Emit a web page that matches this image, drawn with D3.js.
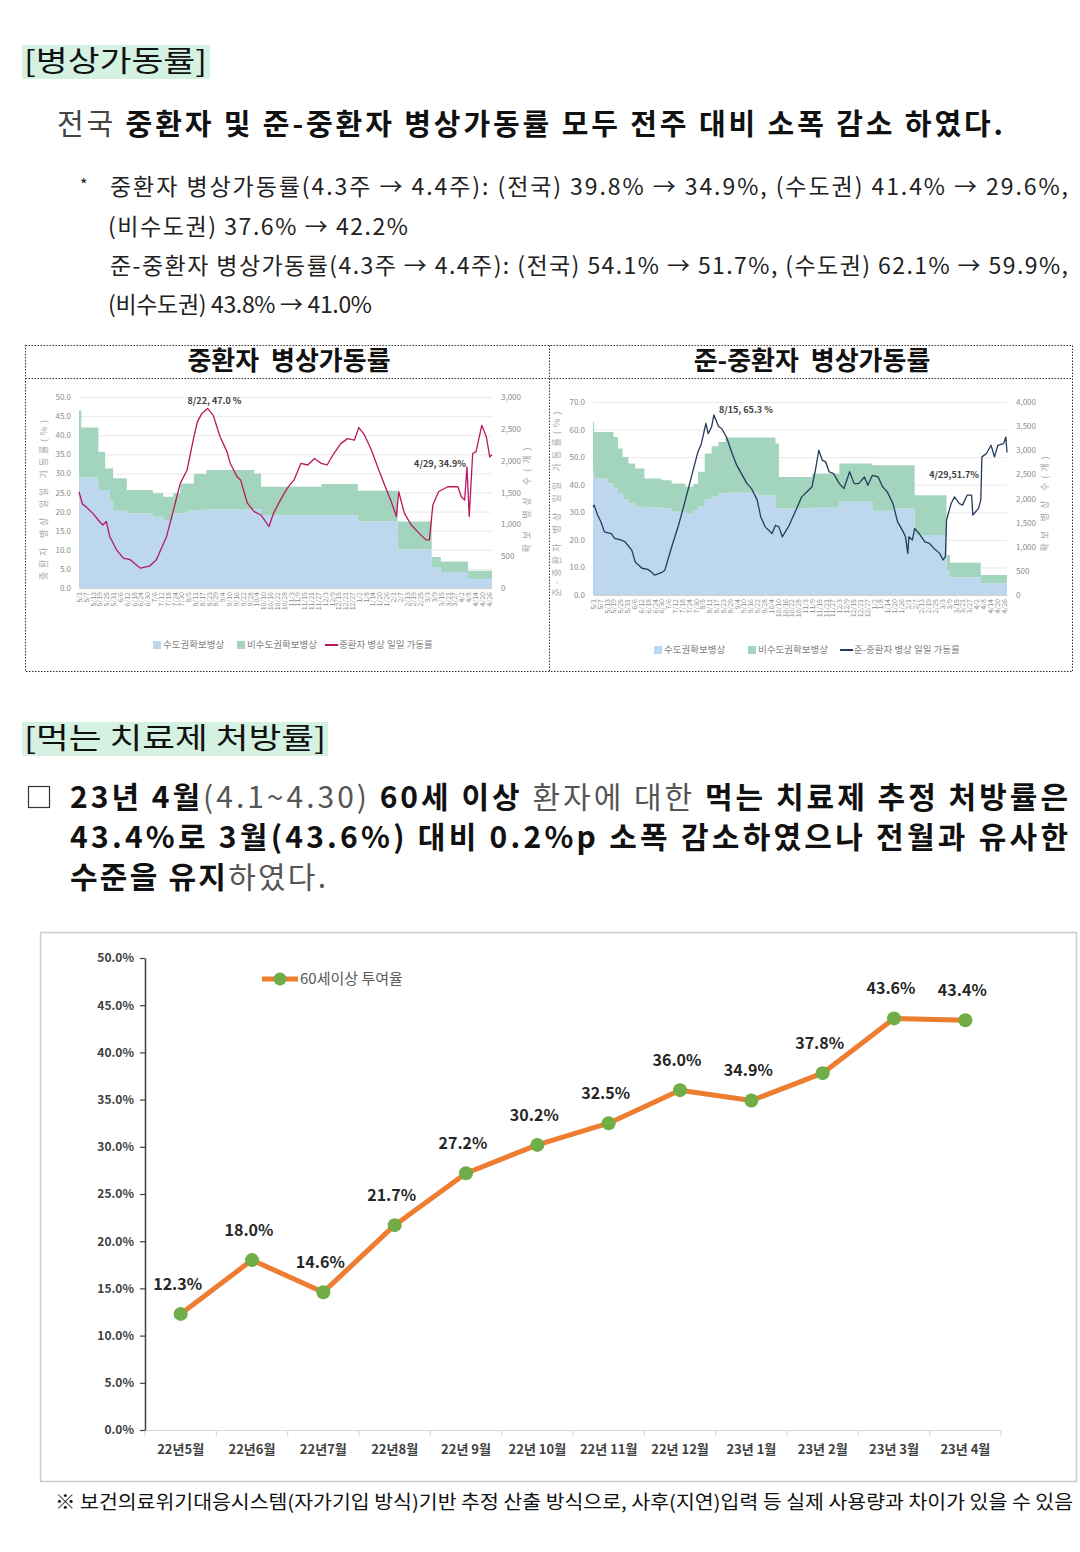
<!DOCTYPE html>
<html>
<head>
<meta charset="utf-8">
<script src="https://cdn.jsdelivr.net/npm/d3@7"></script>
<style>
  body { margin: 0; background: #fff; }
  svg { display: block; }
  text { font-family: "Noto Sans CJK KR", "Noto Sans", sans-serif; white-space: pre; }
</style>
</head>
<body>
<div id="page"></div>
<script>
// ---- main chart: 60세이상 먹는 치료제 투여율 ----
const months = ["22년5월", "22년6월", "22년7월", "22년8월", "22년 9월", "22년 10월",
                "22년 11월", "22년 12월", "23년 1월", "23년 2월", "23년 3월", "23년 4월"];
const rate60 = [12.3, 18.0, 14.6, 21.7, 27.2, 30.2, 32.5, 36.0, 34.9, 37.8, 43.6, 43.4];
const rateTicks = [0, 5, 10, 15, 20, 25, 30, 35, 40, 45, 50];

// ---- small charts (day = days since 2022-05-01) ----
// [day, 수도권 확보병상, 비수도권 확보병상]
const icuBeds = [[0,1740,1050],[2,1740,780],[17,1540,599],[23,1540,338],[27,1380,498],[30,1216,506],
  [42,1170,369],[65,1120,367],[74,1070,365],[83,1174,313],[89,1174,469],[95,1216,427],[101,1216,574],
  [112,1236,616],[154,1236,564],[160,1148,443],[213,1148,485],[245,1043,486],[280,610,433],
  [310,329,156],[318,250,167],[342,140,131],[363,140,131]];
// [day, 중환자 병상 일일 가동률]
const icuRate = [[0,25.2],[3,22],[6,21.3],[12,19.6],[18,17.4],[21,16.5],[24,17.4],[27,13.5],[33,10],
  [39,7.8],[45,7.4],[54,5.2],[62,5.7],[68,7.4],[77,13.5],[83,20.4],[89,27.4],[95,30.9],[101,39.6],
  [104,43.5],[108,45.7],[113,47.0],[118,45.2],[124,39.6],[130,35.7],[133,32.6],[139,29.1],[142,28.3],
  [148,22.2],[154,20],[160,19.1],[167,16.1],[171,19.6],[177,23],[183,26.1],[189,28.3],[195,32.6],
  [201,32.2],[207,33.9],[213,32.6],[218,32.2],[224,35.2],[230,37.8],[236,39.1],[242,38.7],[246,42],
  [251,40],[257,36.1],[263,31.3],[268,27.4],[274,23],[279,18.7],[281,25.2],[286,19.6],[292,16.5],
  [299,14.3],[305,12.6],[308,12.6],[311,21.7],[316,25.2],[324,26.5],[333,26.5],[336,23.9],[339,23],
  [341,31.7],[343,18.7],[346,35.2],[349,35.7],[354,42.6],[358,39.6],[361,34.3],[363,34.9]];
const icuNotes = ["8/22, 47.0 %", "4/29, 34.9%"];

const semiBeds = [[0,2552,1034],[1,2414,965],[13,2310,1069],[18,2207,1069],[22,2103,931],[26,1979,883],
  [31,1897,827],[37,1828,793],[45,1814,600],[60,1793,586],[69,1724,586],[81,1690,551],[88,1760,540],
  [92,1828,724],[98,1979,952],[104,2034,1049],[110,2103,1069],[116,2117,1145],[145,2069,1193],
  [160,1793,1345],[163,1793,655],[192,1810,707],[216,1931,793],[245,1745,945],[263,1793,897],
  [282,1241,828],[310,517,311],[313,366,303],[340,241,173],[363,241,173]];
const semiRate = [[0,32],[1,32.6],[4,29],[7,26.5],[10,22.9],[16,22.3],[19,20.5],[25,19.9],[28,19.3],
  [34,16.3],[37,12],[43,9.7],[48,9.3],[51,8.4],[54,7.2],[60,8.1],[63,9],[69,17.5],[75,25.3],[81,34.4],
  [87,44],[92,51.9],[95,54.9],[99,62.2],[101,58.5],[104,61],[106,65.3],[110,61.2],[113,60.3],[117,57.3],
  [122,51.3],[126,47.1],[131,43.4],[135,40.4],[139,38.6],[144,34.4],[147,28.4],[151,24.7],[157,22.3],
  [160,25.3],[163,24.7],[166,21.1],[172,25.3],[178,30.8],[183,35.6],[189,38],[192,39.2],[195,45.3],
  [198,52.5],[201,48.9],[204,48.3],[207,44.7],[211,44],[216,40.4],[220,38.6],[225,44.7],[229,40.4],
  [233,40.4],[238,42.8],[241,39.8],[245,43.4],[250,42.8],[254,39.2],[258,37.4],[263,33.2],[267,26.6],
  [272,22.9],[274,21.1],[276,15.1],[277,21.1],[280,19.9],[282,24.1],[286,22.3],[291,19.3],[295,18.7],
  [299,16.9],[304,15.1],[307,12.7],[309,13.9],[310,27.2],[314,33.2],[317,35.6],[321,33.2],[324,32.6],
  [328,36.2],[332,36.2],[333,29],[338,31.4],[340,34.4],[341,50.1],[345,51.3],[349,54.3],[352,50.1],
  [355,54.3],[360,54.9],[362,57.3],[363,51.7]];
const semiNotes = ["8/15, 65.3 %", "4/29,51.7%"];

const startDate = new Date(2022, 4, 1);
const endDate = new Date(2023, 3, 29);

const svg = d3.select("#page").append("svg")
  .attr("width", 1080)
  .attr("height", 1552)
  .attr("viewBox", "0 0 1080 1552");

svg.append("rect").attr("width", 1080).attr("height", 1552).attr("fill", "#fff");

// one line of document text, parts = [text, bold, colour]
function textLine(x, y, size, parts, len, adj) {
  const t = svg.append("text")
    .attr("x", x).attr("y", y).attr("dy", "0.36em")
    .attr("font-size", size);
  parts.forEach(p => {
    t.append("tspan")
      .attr("font-weight", p[1] ? 700 : 400)
      .attr("fill", p[2] || "#111")
      .text(p[0]);
  });
  if (len) t.attr("textLength", len).attr("lengthAdjust", adj || "spacing");
  return t;
}

// ---- section 1 text ----
svg.append("rect").attr("x", 22).attr("y", 45).attr("width", 188).attr("height", 34).attr("fill", "#d4f1e2");
textLine(24, 62, 29, [["[병상가동률]", false, "#111"]], 183, "spacingAndGlyphs");

textLine(57, 125, 29, [["전국 ", false, "#444"],
  ["중환자 및 준-중환자 병상가동률 모두 전주 대비 소폭 감소 하였다.", true, "#111"]], 946);

svg.append("text").attr("x", 80).attr("y", 191).attr("font-size", 16).attr("fill", "#222").text("*");
textLine(110, 187, 23, [["중환자 병상가동률(4.3주 → 4.4주): (전국) 39.8% → 34.9%, (수도권) 41.4% → 29.6%,", false, "#222"]], 958);
textLine(108, 227, 23, [["(비수도권) 37.6% → 42.2%", false, "#222"]], 300);
textLine(110, 266, 23, [["준-중환자 병상가동률(4.3주 → 4.4주): (전국) 54.1% → 51.7%, (수도권) 62.1% → 59.9%,", false, "#222"]], 958);
textLine(108, 305, 23, [["(비수도권) 43.8% → 41.0%", false, "#222"]], 264);

// ---- small charts box ----
const dotted = { stroke: "#333", "stroke-width": 1, "stroke-dasharray": "1.5,1.5", fill: "none" };
function applyAttrs(sel, o) { Object.keys(o).forEach(k => sel.attr(k, o[k])); return sel; }
applyAttrs(svg.append("rect").attr("x", 25.5).attr("y", 345.5).attr("width", 1047).attr("height", 326), dotted);
applyAttrs(svg.append("line").attr("x1", 549.5).attr("x2", 549.5).attr("y1", 345.5).attr("y2", 671.5), dotted);
applyAttrs(svg.append("line").attr("x1", 25.5).attr("x2", 1072.5).attr("y1", 378.5).attr("y2", 378.5), dotted);

svg.append("text").attr("x", 289).attr("y", 361).attr("dy", "0.36em").attr("text-anchor", "middle")
  .attr("font-size", 26).attr("font-weight", 700).attr("fill", "#111").text("중환자  병상가동률");
svg.append("text").attr("x", 812).attr("y", 361).attr("dy", "0.36em").attr("text-anchor", "middle")
  .attr("font-size", 26).attr("font-weight", 700).attr("fill", "#111").text("준-중환자  병상가동률");

const blueFill = "#bdd7ee", greenFill = "#a3d4bd";

function bedChart(cfg) {
  const g = svg.append("g");
  const x = d3.scaleTime().domain([startDate, endDate]).range([cfg.x0, cfg.x1]);
  const xd = d => x(d3.timeDay.offset(startDate, d));
  const yR = d3.scaleLinear().domain([0, cfg.rateMax]).range([cfg.yb, cfg.yt]);
  const yB = d3.scaleLinear().domain([0, cfg.bedMax]).range([cfg.yb, cfg.yt]);
  const rTicks = d3.range(0, cfg.rateMax + 0.001, cfg.rateStep);

  g.selectAll("line.grid").data(rTicks).join("line")
    .attr("class", "grid")
    .attr("x1", cfg.x0).attr("x2", cfg.x1)
    .attr("y1", d => yR(d) + 0.5).attr("y2", d => yR(d) + 0.5)
    .attr("stroke", "#e3e3e3").attr("stroke-width", 0.8);

  const rows = cfg.beds.map(b => ({ day: b[0], metro: b[1], nonmetro: b[2] }));
  const stacked = d3.stack().keys(["metro", "nonmetro"])(rows);
  const area = d3.area().curve(d3.curveStepAfter)
    .x(d => xd(d.data.day)).y0(d => yB(d[0])).y1(d => yB(d[1]));
  g.selectAll("path.area").data(stacked).join("path")
    .attr("class", "area")
    .attr("d", area)
    .attr("fill", (d, i) => i === 0 ? blueFill : greenFill);

  // left axis
  const la = g.append("g").attr("transform", `translate(${cfg.x0},0)`)
    .call(d3.axisLeft(yR).tickValues(rTicks).tickFormat(d3.format(".1f")).tickSize(0).tickPadding(8));
  la.select(".domain").remove();
  la.selectAll("text").attr("font-size", 8).attr("fill", "#8c8c8c").attr("font-family", "Noto Sans CJK KR");

  // right axis
  const ra = g.append("g").attr("transform", `translate(${cfg.x1},0)`)
    .call(d3.axisRight(yB).tickValues(d3.range(0, cfg.bedMax + 1, 500)).tickFormat(d3.format(",")).tickSize(0).tickPadding(9));
  ra.select(".domain").remove();
  ra.selectAll("text").attr("font-size", 8).attr("fill", "#8c8c8c").attr("font-family", "Noto Sans CJK KR");

  // bottom axis with dates every 6 days
  const ba = g.append("g").attr("transform", `translate(0,${cfg.yb})`)
    .call(d3.axisBottom(x).tickValues(d3.timeDay.range(startDate, endDate, 6))
      .tickFormat(d3.timeFormat("%-m/%-d")).tickSize(0));
  ba.select(".domain").attr("stroke", "#d0d0d0");
  ba.selectAll("text")
    .attr("transform", "rotate(-90)")
    .attr("x", -4).attr("y", 0).attr("dy", "0.35em")
    .attr("text-anchor", "end")
    .attr("font-size", 7).attr("fill", "#8c8c8c").attr("font-family", "Noto Sans CJK KR");

  // rate line
  g.append("path").datum(cfg.rate)
    .attr("d", d3.line().x(d => xd(d[0])).y(d => yR(d[1])))
    .attr("fill", "none").attr("stroke", cfg.lineColor).attr("stroke-width", 1.3)
    .attr("stroke-linejoin", "round");

  // notes: peak and last day
  const peak = d3.greatest(cfg.rate, d => d[1]);
  const last = cfg.rate[cfg.rate.length - 1];
  g.append("text").attr("x", xd(peak[0]) + cfg.peakDx).attr("y", yR(peak[1]) + cfg.peakDy)
    .attr("font-size", 9).attr("font-weight", 700).attr("fill", "#404040").text(cfg.notes[0]);
  g.append("text").attr("x", xd(last[0]) + cfg.lastDx).attr("y", yR(last[1]) + cfg.lastDy)
    .attr("text-anchor", "end")
    .attr("font-size", 9).attr("font-weight", 700).attr("fill", "#404040").text(cfg.notes[1]);

  // axis titles
  g.append("text").attr("transform", `translate(${cfg.ltX},${cfg.titleY}) rotate(-90)`)
    .attr("text-anchor", "middle").attr("dy", "0.35em")
    .attr("font-size", 9).attr("fill", "#a6a6a6")
    .attr("textLength", cfg.ltLen).attr("lengthAdjust", "spacing")
    .text(cfg.leftTitle);
  g.append("text").attr("transform", `translate(${cfg.rtX},${cfg.titleY}) rotate(-90)`)
    .attr("text-anchor", "middle").attr("dy", "0.35em")
    .attr("font-size", 9).attr("fill", "#a6a6a6")
    .attr("textLength", cfg.rtLen).attr("lengthAdjust", "spacing")
    .text(cfg.rightTitle);

  // legend
  const lg = g.append("g").attr("transform", `translate(0,${cfg.legY})`);
  lg.append("rect").attr("x", cfg.legX[0]).attr("y", -4).attr("width", 8).attr("height", 8).attr("fill", blueFill);
  lg.append("text").attr("x", cfg.legX[0] + 10).attr("dy", "0.35em").attr("font-size", 9.5).attr("fill", "#7f7f7f").text("수도권확보병상");
  lg.append("rect").attr("x", cfg.legX[1]).attr("y", -4).attr("width", 8).attr("height", 8).attr("fill", greenFill);
  lg.append("text").attr("x", cfg.legX[1] + 10).attr("dy", "0.35em").attr("font-size", 9.5).attr("fill", "#7f7f7f").text("비수도권확보병상");
  lg.append("line").attr("x1", cfg.legX[2]).attr("x2", cfg.legX[2] + 13).attr("stroke", cfg.lineColor).attr("stroke-width", 2);
  lg.append("text").attr("x", cfg.legX[2] + 14).attr("dy", "0.35em").attr("font-size", 9.5).attr("fill", "#7f7f7f").text(cfg.lineLabel);
}

bedChart({
  x0: 79, x1: 492, yb: 588, yt: 397,
  rateMax: 50, rateStep: 5, bedMax: 3000,
  beds: icuBeds, rate: icuRate, notes: icuNotes, lineColor: "#b8175f",
  peakDx: -20, peakDy: -4, lastDx: -26, lastDy: 12,
  leftTitle: "중환자 병상 일일 가동률(%)", rightTitle: "확보 병상 수(개)",
  ltX: 44, rtX: 527, titleY: 500, ltLen: 160, rtLen: 105,
  legY: 645, legX: [153, 237, 325], lineLabel: "중환자 병상 일일 가동률"
});

bedChart({
  x0: 593, x1: 1007, yb: 595, yt: 402,
  rateMax: 70, rateStep: 10, bedMax: 4000,
  beds: semiBeds, rate: semiRate, notes: semiNotes, lineColor: "#253b5c",
  peakDx: 5, peakDy: -2, lastDx: -28, lastDy: 26,
  leftTitle: "준-중환자 병상 일일 가동률(%)", rightTitle: "확보 병상 수(개)",
  ltX: 557, rtX: 1045, titleY: 504, ltLen: 185, rtLen: 95,
  legY: 650, legX: [654, 748, 840], lineLabel: "준-중환자 병상 일일 가동률"
});

// ---- section 2 text ----
svg.append("rect").attr("x", 22).attr("y", 722).attr("width", 306).attr("height", 34).attr("fill", "#d4f1e2");
textLine(24, 739, 29, [["[먹는 치료제 처방률]", false, "#111"]], 302, "spacingAndGlyphs");

svg.append("rect").attr("x", 28.5).attr("y", 786.5).attr("width", 21).attr("height", 21)
  .attr("fill", "none").attr("stroke", "#333").attr("stroke-width", 1.2);
textLine(70, 797, 30, [["23년 4월", true], ["(4.1~4.30) ", false, "#555"], ["60세 이상 ", true],
  ["환자에 대한 ", false, "#555"], ["먹는 치료제 추정 처방률은", true]], 998);
textLine(70, 837, 30, [["43.4%로 3월(43.6%) 대비 0.2%p 소폭 감소하였으나 전월과 유사한", true]], 998);
textLine(70, 877, 30, [["수준을 유지", true], ["하였다.", false, "#555"]], 256);

// ---- main chart ----
svg.append("rect").attr("x", 40.5).attr("y", 932.5).attr("width", 1036).attr("height", 549)
  .attr("fill", "none").attr("stroke", "#9a9a9a").attr("stroke-width", 1.5).attr("stroke-dasharray", "1,1");

const xM = d3.scaleBand().domain(months).range([145, 1001]);
const yM = d3.scaleLinear().domain([0, 50]).range([1430, 958]);
const cx = m => xM(m) + xM.bandwidth() / 2;

// x axis line and boundary ticks
svg.append("line").attr("x1", 145).attr("x2", 1001).attr("y1", 1430.5).attr("y2", 1430.5)
  .attr("stroke", "#d9d9d9").attr("stroke-width", 1.2);
svg.selectAll("line.xtick").data(d3.range(months.length + 1)).join("line")
  .attr("class", "xtick")
  .attr("x1", i => 145 + i * xM.step()).attr("x2", i => 145 + i * xM.step())
  .attr("y1", 1430).attr("y2", 1436)
  .attr("stroke", "#d9d9d9").attr("stroke-width", 1.2);

const xa = svg.append("g").attr("transform", "translate(0,1430)")
  .call(d3.axisBottom(xM).tickSize(0).tickPadding(15));
xa.select(".domain").remove();
xa.selectAll("text").attr("font-size", 13).attr("font-weight", 700).attr("fill", "#404040")
  .attr("font-family", "Noto Sans CJK KR");

const ya = svg.append("g").attr("transform", "translate(145,0)")
  .call(d3.axisLeft(yM).tickValues(rateTicks).tickFormat(d => d.toFixed(1) + "%")
    .tickSize(5).tickSizeOuter(0).tickPadding(6));
ya.select(".domain").attr("stroke", "#404040").attr("stroke-width", 1.5);
ya.selectAll(".tick line").attr("stroke", "#404040").attr("stroke-width", 1.2);
ya.selectAll("text").attr("font-size", 12).attr("font-weight", 700).attr("fill", "#404040")
  .attr("font-family", "Noto Sans CJK KR");

const pts = months.map((m, i) => ({ m: m, v: rate60[i] }));
svg.append("path").datum(pts)
  .attr("d", d3.line().x(d => cx(d.m)).y(d => yM(d.v)))
  .attr("fill", "none").attr("stroke", "#ed7d31").attr("stroke-width", 5)
  .attr("stroke-linejoin", "round");
svg.selectAll("circle.pt").data(pts).join("circle")
  .attr("class", "pt")
  .attr("cx", d => cx(d.m)).attr("cy", d => yM(d.v)).attr("r", 7)
  .attr("fill", "#70ad47");
svg.selectAll("text.val").data(pts).join("text")
  .attr("class", "val")
  .attr("x", d => cx(d.m) - 3).attr("y", d => yM(d.v) - 30)
  .attr("dy", "0.36em").attr("text-anchor", "middle")
  .attr("font-size", 16).attr("font-weight", 700).attr("fill", "#262626")
  .text(d => d.v.toFixed(1) + "%");

// legend
svg.append("line").attr("x1", 262).attr("x2", 298).attr("y1", 979).attr("y2", 979)
  .attr("stroke", "#ed7d31").attr("stroke-width", 5);
svg.append("circle").attr("cx", 280).attr("cy", 979).attr("r", 6.5).attr("fill", "#70ad47");
svg.append("text").attr("x", 300).attr("y", 979).attr("dy", "0.36em")
  .attr("font-size", 15).attr("fill", "#595959").text("60세이상 투여율");

// footnote
textLine(55, 1502, 19, [["※ 보건의료위기대응시스템(자가기입 방식)기반 추정 산출 방식으로, 사후(지연)입력 등 실제 사용량과 차이가 있을 수 있음", false, "#111"]], 1018, "spacingAndGlyphs");
</script>
</body>
</html>
